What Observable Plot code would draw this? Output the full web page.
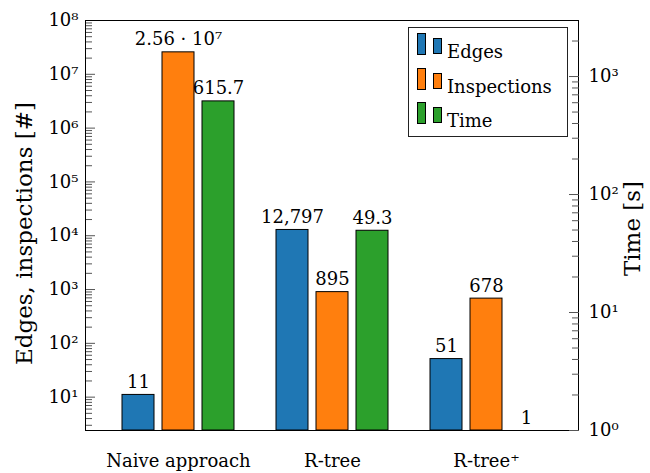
<!DOCTYPE html>
<html>
<head>
<meta charset="utf-8">
<script src="https://cdn.jsdelivr.net/npm/d3@7"></script>
<script src="https://cdn.jsdelivr.net/npm/@observablehq/plot@0.6"></script>
<style>
  body { margin: 0; background: #fff; }
  #chart { position: relative; width: 650px; height: 473px; font-family: "DejaVu Serif", serif; }
  #chart svg { position: absolute; left: 0; top: 0; overflow: visible; }
  .legend { position: absolute; left: 408px; top: 27px; width: 160px; height: 110px; box-sizing: border-box;
            border: 1px solid #222; background: #fff; font-size: 18px; color: #000; }
  .legend .row { position: absolute; left: 0; height: 34px; width: 100%; }
  .legend .sw { position: absolute; bottom: 7px; box-sizing: border-box; border: 1px solid #000; }
  .legend .lab { position: absolute; left: 38px; bottom: 1px; line-height: 1; }
</style>
</head>
<body>
<div id="chart"></div>
<script>
// Methods compared and the measured series
const methods = ["Naive approach", "R-tree", "R-tree\u207A"];
const series = ["Edges", "Inspections", "Time"];
const colors = ["#1f77b4", "#ff7f0e", "#2ca02c"];

const edges = [11, 12797, 51];                // count
const inspections = [2.56e7, 895, 678];       // count
const timeSeconds = [615.7, 49.3, 1];         // seconds

// Axis ticks
const countTicks = [1e1, 1e2, 1e3, 1e4, 1e5, 1e6, 1e7, 1e8];
const timeTicks = [1, 10, 100, 1000];
const countDomain = [2.4, 1e8];
const timeDomain = [1, 2985];

const W = 650, H = 473;
const margins = {marginLeft: 85, marginRight: 72, marginTop: 20, marginBottom: 43};
const font = "'DejaVu Serif', serif";

const supDigits = {"-": "\u207B", "0": "\u2070", "1": "\u00B9", "2": "\u00B2", "3": "\u00B3", "4": "\u2074",
                   "5": "\u2075", "6": "\u2076", "7": "\u2077", "8": "\u2078", "9": "\u2079"};
const sup = (n) => String(n).split("").map((c) => supDigits[c]).join("");
const pow10 = (v) => "10" + sup(Math.round(Math.log10(v)));

// minor log ticks 2..9 × 10^k inside a domain
const minorTicks = ([lo, hi]) => d3.range(Math.floor(Math.log10(lo)), Math.ceil(Math.log10(hi)) + 1)
  .flatMap((k) => d3.range(2, 10).map((m) => m * 10 ** k))
  .filter((v) => v >= lo && v <= hi);

const fmtCount = (v) => {
  if (v >= 1e6) {
    const e = Math.floor(Math.log10(v));
    return `${+(v / 10 ** e).toFixed(2)} \u00B7 10${sup(e)}`;
  }
  return d3.format(",")(v);
};
const fmtTime = (v) => String(v);

const countRows = methods.flatMap((m, i) => [
  {method: m, series: "Edges", value: edges[i]},
  {method: m, series: "Inspections", value: inspections[i]}
]);
const timeRows = methods.map((m, i) => ({method: m, series: "Time", value: timeSeconds[i]}));

const groupScale = {domain: methods, paddingInner: 0, paddingOuter: 0.1006};
const xScale = {domain: series, paddingInner: 0.2, paddingOuter: 0.525, axis: null};
const colorScale = {domain: series, range: colors};
const base = {width: W, height: H, ...margins,
  style: {fontFamily: font, fontSize: "18px", background: "transparent", color: "#000"}};

// Grouped bars on a given log scale, one facet per method
const barsPlot = (rows, domain, fmt) => Plot.plot({
  ...base,
  fx: {...groupScale, axis: null},
  x: xScale,
  y: {type: "log", domain, axis: null},
  color: colorScale,
  marks: [
    Plot.barY(rows, {fx: "method", x: "series", y1: domain[0], y2: "value",
      fill: "series", stroke: "#000", strokeWidth: 1}),
    Plot.text(rows, {fx: "method", x: "series", y: "value", text: (d) => fmt(d.value),
      lineAnchor: "bottom", dy: -7, fontSize: 18})
  ]
});

// Left axis, category labels and frame
const countAxes = Plot.plot({
  ...base,
  x: {type: "band", ...groupScale},
  y: {type: "log", domain: countDomain},
  marks: [
    Plot.axisX(methods, {anchor: "bottom", tickSize: 0, tickPadding: 24, label: null, fontSize: 18}),
    Plot.axisY(minorTicks(countDomain), {anchor: "left", tickSize: -7, tickFormat: () => "", label: null,
      stroke: "#555"}),
    Plot.axisY(countTicks, {anchor: "left", tickSize: -10, tickFormat: () => "", label: null, stroke: "#555"}),
    Plot.axisY(countTicks, {anchor: "left", tickSize: 0, tickPadding: 7, tickFormat: pow10, label: null,
      fontSize: 18}),
    Plot.text(["Edges, inspections [#]"], {frameAnchor: "left", textAnchor: "middle", rotate: -90,
      dx: -61, dy: 8, fontSize: 23}),
    Plot.frame({stroke: "#000"})
  ]
});

// Right axis for run time
const timeAxes = Plot.plot({
  ...base,
  x: {type: "band", ...groupScale, axis: null},
  y: {type: "log", domain: timeDomain},
  marks: [
    Plot.axisY(minorTicks(timeDomain), {anchor: "right", tickSize: -7, tickFormat: () => "", label: null,
      stroke: "#555"}),
    Plot.axisY(timeTicks, {anchor: "right", tickSize: -10, tickFormat: () => "", label: null, stroke: "#555"}),
    Plot.axisY(timeTicks, {anchor: "right", tickSize: 0, tickPadding: 10, tickFormat: pow10, label: null,
      fontSize: 18}),
    Plot.text(["Time [s]"], {frameAnchor: "right", textAnchor: "middle", rotate: -90,
      dx: 54, dy: 3, fontSize: 23})
  ]
});

const chart = document.getElementById("chart");
chart.append(
  countAxes,
  timeAxes,
  barsPlot(countRows, countDomain, fmtCount),
  barsPlot(timeRows, timeDomain, fmtTime)
);

// Legend box
const legend = document.createElement("div");
legend.className = "legend";
series.forEach((s, i) => {
  const row = document.createElement("div");
  row.className = "row";
  row.style.top = `${i * 34.5}px`;
  const a = document.createElement("div");
  a.className = "sw";
  Object.assign(a.style, {left: "8px", width: "9px", height: "22px", background: colors[i]});
  const b = document.createElement("div");
  b.className = "sw";
  Object.assign(b.style, {left: "24px", width: "9px", height: "16px", bottom: "8px", background: colors[i]});
  const t = document.createElement("span");
  t.className = "lab";
  t.textContent = s;
  row.append(a, b, t);
  legend.append(row);
});
chart.append(legend);
</script>
</body>
</html>
